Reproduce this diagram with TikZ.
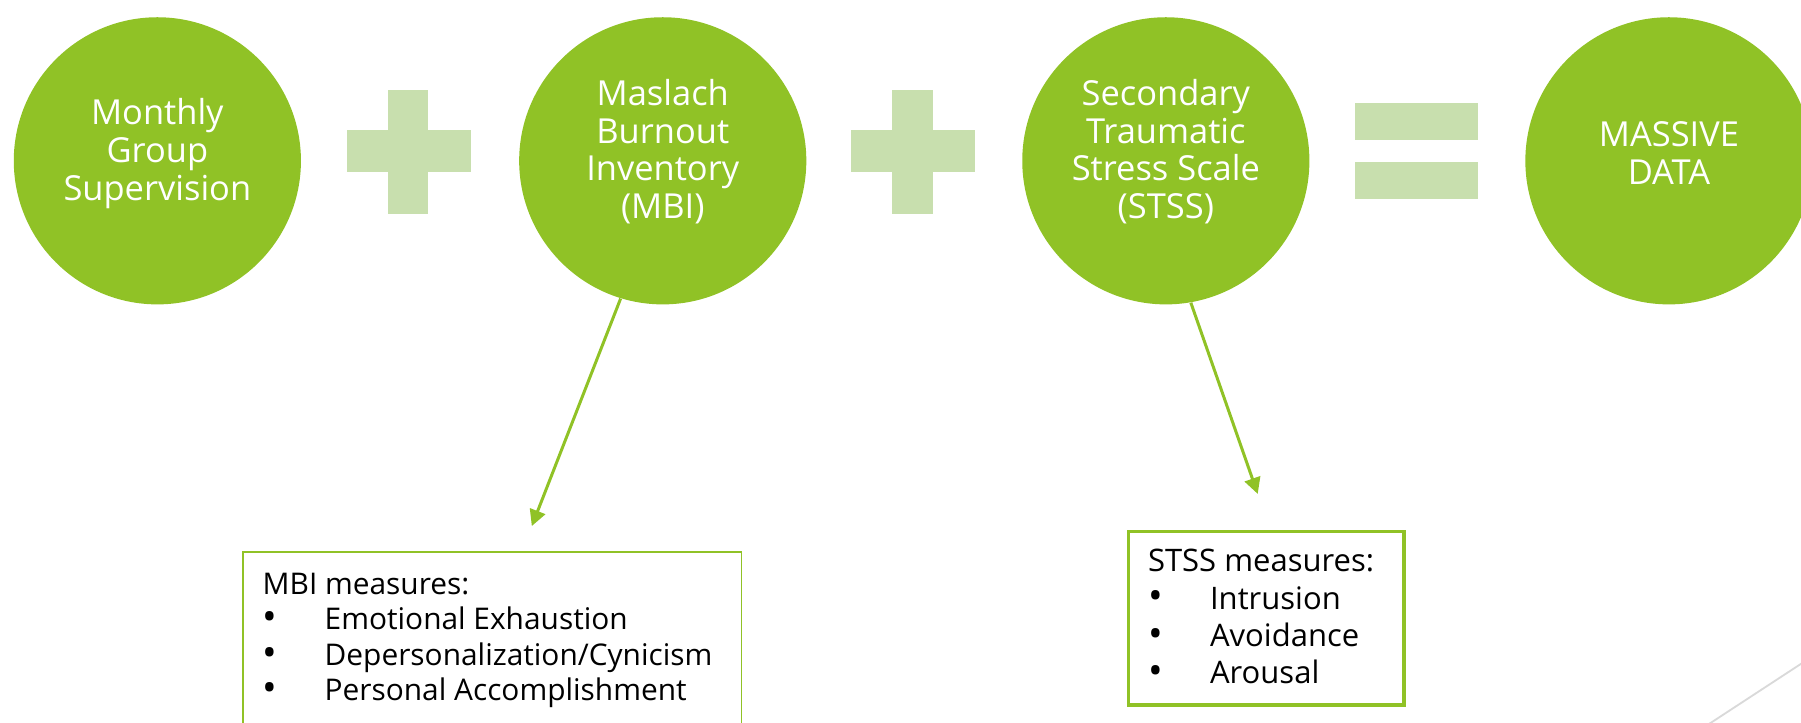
\documentclass[tikz,border=0pt]{standalone}
\usepackage{fontspec}
\setmainfont{Open Sans}
\usetikzlibrary{arrows.meta}

\definecolor{leaf}{HTML}{90C226}
\definecolor{paleleaf}{HTML}{C8DFAE}
\definecolor{slidegray}{HTML}{D9D9D9}

\newcommand{\bul}[1]{\makebox[27pt][l]{\raisebox{-0.4pt}{\fontsize{17}{0}\selectfont\textbullet}}#1}

\tikzset{
  bubble/.style={circle, fill=leaf, minimum size=125pt, inner sep=0pt},
  bubbletext/.style={text=white, align=center, inner sep=0pt,
    font=\fontsize{15}{16.5}\selectfont},
  sign/.style={fill=paleleaf, draw=none},
  flow/.style={draw=leaf, line width=1.3pt, -{Triangle[length=7pt,width=7pt]}},
  measbox/.style={draw=leaf, anchor=north west, inner xsep=8.5pt, fill=white}
}

\begin{document}
\begin{tikzpicture}[x=0.5pt,y=0.5pt,yscale=-1,xscale=1]
\useasboundingbox (0,0) rectangle (1568,629);
\clip (0,0) rectangle (1568,629);

% circles
\node[bubble] (sup) at (137,140) {};
\node[bubble] (mbi) at (577,140) {};
\node[bubble] (stss) at (1015,140) {};
\node[bubble] (data) at (1453,140) {};

% circle texts
\node[bubbletext] (suptext) at (137,134) {Monthly\\Group\\Supervision};
\node[bubbletext] (mbitext) at (577,132) {Maslach\\Burnout\\Inventory\\(MBI)};
\node[bubbletext] (stsstext) at (1015,132) {Secondary\\Traumatic\\Stress Scale\\(STSS)};
\node[bubbletext] (datatext) at (1453,133) {MASSIVE\\DATA};

% plus, plus, equals
\fill[sign] (302,113) rectangle (410,150);
\fill[sign] (338,78) rectangle (373,186);
\fill[sign] (741,113) rectangle (849,150);
\fill[sign] (777,78) rectangle (812,186);
\fill[sign] (1180,90) rectangle (1287,122);
\fill[sign] (1180,141) rectangle (1287,173);

% measure boxes
\node[measbox, line width=0.7pt, inner ysep=9pt] (mbibox) at (211,480)
  {\parbox[c][80pt][t]{200pt}{\fontsize{13}{15.5}\selectfont
   MBI measures:\\
   \bul{Emotional Exhaustion}\\
   \bul{Depersonalization/Cynicism}\\
   \bul{Personal Accomplishment}}};
\node[measbox, line width=1.5pt, inner ysep=7.8pt] (stssbox) at (981,461)
  {\parbox[c][60pt][t]{103pt}{\fontsize{13.5}{16.3}\selectfont
   STSS measures:\\
   \bul{Intrusion}\\
   \bul{Avoidance}\\
   \bul{Arousal}}};

% arrows
\coordinate (mbitip) at (463,458);
\coordinate (stsstip) at (1095,430);
\draw[flow] (mbi.253) -- (mbitip);
\draw[flow] (stss.280) -- (stsstip);

% slide corner line
\draw[slidegray, line width=0.8pt] (1470,642) -- (1600,557);

\end{tikzpicture}
\end{document}
